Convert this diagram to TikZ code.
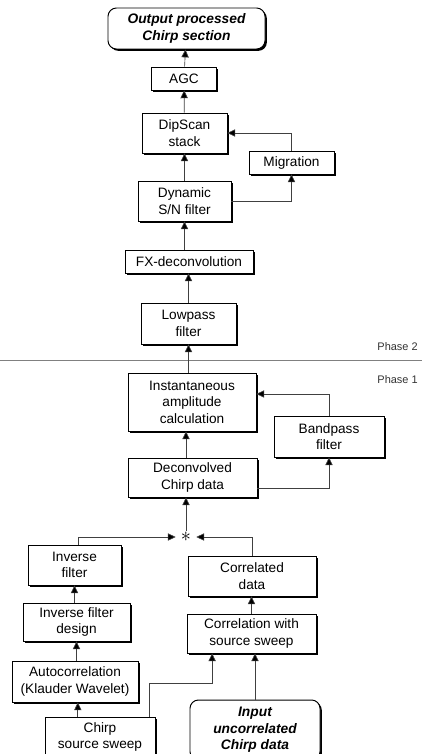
\documentclass[tikz,border=0pt]{standalone}
\usepackage{fontspec}
\setmainfont{Liberation Sans}
\usepackage{tikz}
\usetikzlibrary{positioning, shadows, arrows.meta, calc}
\tikzset{
	boxnode/.style={
			rectangle,
			draw=black,
			line width=0.5pt,
			fill=white,
			align=center,
			inner sep=0pt,
			font=\fontsize{9.7}{11.7}\selectfont,
			drop shadow={shadow xshift=1.3pt, shadow yshift=-1.3pt, opacity=1, fill=black}
		},
	termnode/.style={
			boxnode,
			rounded corners=6pt,
			line width=0.7pt,
			font=\fontsize{9.8}{11.8}\selectfont\bfseries\itshape
		},
	boxsize/.style 2 args={
			minimum width=#1*0.025cm,
			minimum height=#2*0.025cm
		},
	phasenode/.style={
			anchor=east,
			inner sep=0pt,
			text=black!80,
			font=\fontsize{7.8}{9}\selectfont
		},
	arr/.style={
			line width=0.45pt,
			black!75,
			-{Triangle[length=5.6pt,width=5.2pt,fill=black]}
		}
}

\begin{document}
\begin{tikzpicture}[x=0.025cm, y=-0.025cm]
\useasboundingbox (0,0) rectangle (422,754);

% phase 2
\node[termnode, boxsize={157}{41}] (out) at (186.5,28.5) {Output processed\\Chirp section};
\node[boxnode, boxsize={65}{23}] (agc) at (184,78.5) {AGC};
\node[boxnode, boxsize={85}{40}] (dip) at (184.5,133) {DipScan\\stack};
\node[boxnode, boxsize={85}{23}] (mig) at (291.5,162.5) {Migration};
\node[boxnode, boxsize={93}{40}] (dyn) at (184.5,201) {Dynamic\\S/N filter};
\node[boxnode, boxsize={128}{23}] (fx) at (189,261.5) {FX-deconvolution};
\node[boxnode, boxsize={95}{41}] (low) at (188.5,323.5) {Lowpass\\filter};

% phase 1
\node[boxnode, boxsize={128}{58}] (inst) at (192,402) {Instantaneous\\amplitude\\calculation};
\node[boxnode, boxsize={110}{41}] (band) at (329,436.5) {Bandpass\\filter};
\node[boxnode, boxsize={129}{39}] (dec) at (192.5,477.5) {Deconvolved\\Chirp data};
\node[inner sep=0pt, boxsize={20}{12}, font=\fontsize{15}{15}\selectfont] (star) at (186,537) {$\ast$};

\node[boxnode, boxsize={93}{40}] (inv) at (74.5,565) {Inverse\\filter};
\node[boxnode, boxsize={107}{38}] (invd) at (76.5,622) {Inverse filter\\design};
\node[boxnode, boxsize={126}{41}] (auto) at (75,681.5) {Autocorrelation\\(Klauder Wavelet)};
\node[boxnode, boxsize={110}{40}] (chirp) at (100,737) {Chirp\\source sweep};

\node[boxnode, boxsize={128}{40}] (corr) at (252,576) {Correlated\\data};
\node[boxnode, boxsize={129}{39}] (corw) at (251.5,633.5) {Correlation with\\source sweep};
\node[termnode, boxsize={130}{60}] (inp) at (255,730) {Input\\uncorrelated\\Chirp data};

\node[phasenode] (ph2) at (418,347) {Phase 2};
\node[phasenode] (ph1) at (418,380) {Phase 1};
\draw[black!50, line width=0.4pt] (0,360) -- (422,360);

\draw[arr] (agc) -- (out);
\draw[arr] (dip) -- (agc);
\draw[arr] (dyn) -- (dip);
\draw[arr] (fx.north -| dyn.south) -- (dyn);
\draw[arr] (low.north) -- (fx.south -| low.north);
\draw[arr] (inst.north -| low.south) -- (low);
\draw[arr] (mig.north) |- (dip.east);
\draw[arr] (dyn.east) -| (mig.south);

\draw[arr] (star) -- (star |- dec.south);
\draw[arr] (dec.north -| star) -- (star |- inst.south);
\draw[arr] (band.north) |- ([yshift=5.7pt]inst.east);
\draw[arr] ([yshift=-7.4pt]dec.east) -| (band.south);

\draw[arr] ([xshift=2.5pt]inv.north) |- (star.west);
\draw[arr] (corr.north) |- (star.east);
\draw[arr] (invd.north -| inv.south) -- (inv.south);
\draw[arr] (auto.north -| invd.south) -- (invd.south);
\draw[arr] ([xshift=2pt]chirp.north -| auto.south) -- ([xshift=2pt]auto.south);
\draw[arr] ([xshift=-4pt]chirp.north east) -- ++(0,-33) -| ([xshift=-28pt]corw.south);
\draw[arr] (corw.north) -- (corr.south -| corw.north);
\draw[arr] (inp.north) -- (inp.north |- corw.south);
\end{tikzpicture}
\end{document}
